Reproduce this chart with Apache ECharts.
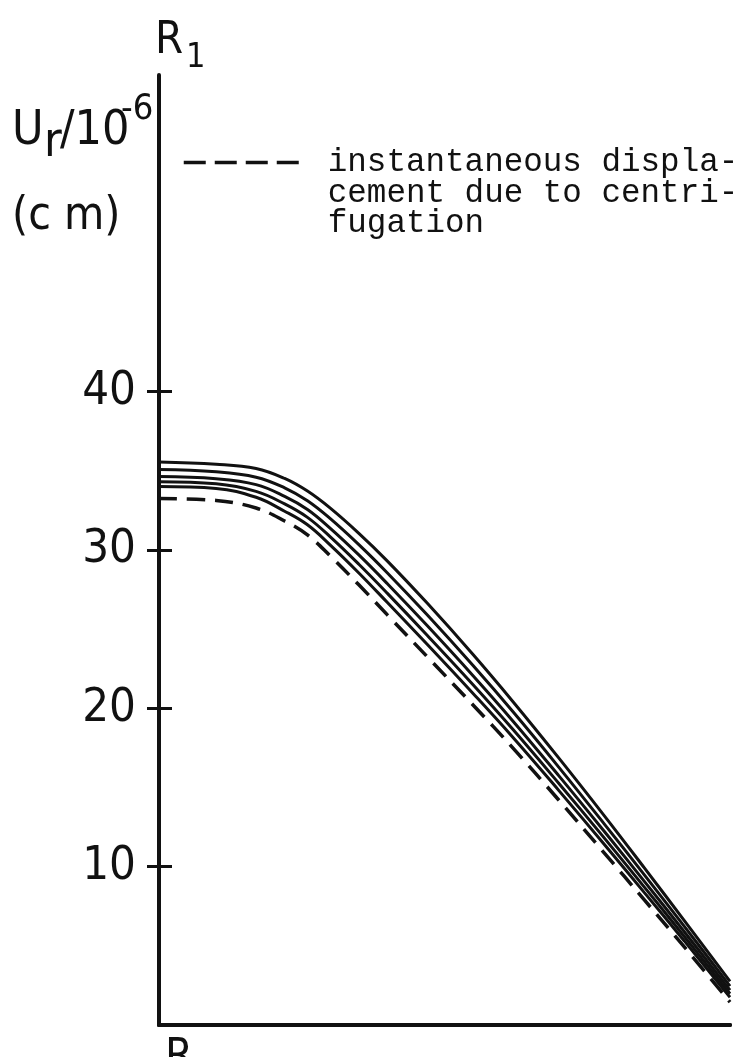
<!DOCTYPE html>
<html>
<head>
<meta charset="utf-8">
<script src="https://cdn.jsdelivr.net/npm/echarts@6/dist/echarts.min.js"></script>
<style>
  html, body { margin: 0; padding: 0; background: #fff; }
  #chart { width: 748px; height: 1057px; }
</style>
</head>
<body>
<div id="chart"></div>
<script>
// ---- data ----
const xPositions = [0, 10, 17, 22, 26, 30, 35, 40, 47, 55, 62, 70, 78, 85, 92, 100];
const curve1 = [35.56, 35.42, 35.15, 34.52, 33.72, 32.64, 31.05, 29.3, 26.63, 23.40, 20.42, 16.87, 13.21, 9.92, 6.59, 2.75];
const curve2 = [35.08, 34.94, 34.60, 33.93, 33.11, 31.98, 30.34, 28.55, 25.89, 22.70, 19.78, 16.29, 12.69, 9.48, 6.23, 2.46];
const curve3 = [34.64, 34.50, 34.13, 33.39, 32.56, 31.37, 29.69, 27.87, 25.21, 22.06, 19.19, 15.75, 12.22, 9.07, 5.89, 2.20];
const curve4 = [34.31, 34.18, 33.70, 32.91, 32.06, 30.83, 29.10, 27.26, 24.60, 21.49, 18.66, 15.27, 11.80, 8.71, 5.59, 1.97];
const curve5 = [34.01, 33.89, 33.33, 32.45, 31.59, 30.31, 28.55, 26.68, 24.03, 20.94, 18.16, 14.82, 11.40, 8.36, 5.31, 1.75];
const instantaneous = [33.25, 33.13, 32.65, 31.83, 30.95, 29.62, 27.8, 25.9, 23.25, 20.21, 17.49, 14.21, 10.86, 7.9, 4.93, 1.45];
const yTicks = [10, 20, 30, 40];
const legendText = ['instantaneous displa-', 'cement due to centri-', 'fugation'];
const dashedName = 'instantaneous displacement due to centrifugation';

const INK = '#111';
const NARROW = "'Liberation Sans Narrow', 'DejaVu Sans Condensed', 'Liberation Sans', sans-serif";
const MONO = "'Courier New', 'Liberation Mono', 'DejaVu Sans Mono', monospace";

function pairs(vals) { return xPositions.map((x, i) => [x, vals[i]]); }

const solidCurves = [curve1, curve2, curve3, curve4, curve5].map((c, i) => ({
  name: 'curve' + (i + 1),
  type: 'line',
  xAxisIndex: 0, yAxisIndex: 0,
  data: pairs(c),
  smooth: 0.4,
  symbol: 'none',
  itemStyle: { color: INK },
  lineStyle: { color: INK, width: 3, type: 'solid' },
  silent: true
}));

const chart = echarts.init(document.getElementById('chart'), null, { renderer: 'canvas' });
chart.setOption({
  backgroundColor: '#fff',
  animation: false,
  grid: [
    { left: 159, right: 18, top: 75, bottom: 32 },
    { left: 159, right: 18, top: 75, bottom: 32 }
  ],
  xAxis: [
    { type: 'value', gridIndex: 0, min: 0, max: 100, position: 'bottom',
      axisLine: { show: true, lineStyle: { color: INK, width: 4 } },
      axisTick: { show: false }, axisLabel: { show: false }, splitLine: { show: false } },
    { type: 'value', gridIndex: 1, min: 0, max: 100, position: 'top',
      axisLine: { show: true, lineStyle: { color: INK, width: 4 } },
      axisTick: { show: false }, axisLabel: { show: false }, splitLine: { show: false } }
  ],
  yAxis: [
    { type: 'value', gridIndex: 0, min: 0, max: 60, interval: 10, position: 'left',
      axisLine: { show: true, lineStyle: { color: INK, width: 4 } },
      axisTick: { show: true, length: 12, customValues: yTicks, lineStyle: { color: INK, width: 3 } },
      axisLabel: { show: true, customValues: yTicks, margin: 23, color: INK,
        fontSize: 47, fontFamily: NARROW },
      splitLine: { show: false } },
    { type: 'value', gridIndex: 1, min: 0, max: 60, interval: 10, position: 'left',
      axisLine: { show: false },
      axisTick: { show: true, inside: true, length: 13, customValues: yTicks, lineStyle: { color: INK, width: 3 } },
      axisLabel: { show: false },
      splitLine: { show: false } }
  ],
  legend: {
    data: [dashedName],
    left: 177, top: 80, padding: 5,
    itemWidth: 115, itemHeight: 10,
    lineStyle: { type: [22, 9], width: 3.5, color: INK },
    itemStyle: { opacity: 0 },
    formatter: () => '\n\n' + legendText.join('\n'),
    textStyle: { fontFamily: MONO, fontSize: 32.6, lineHeight: 30.5, color: INK,
      padding: [0, 0, 0, 24] },
    selectedMode: false
  },
  series: solidCurves.concat([{
    name: dashedName,
    type: 'line',
    xAxisIndex: 0, yAxisIndex: 0,
    data: pairs(instantaneous),
    smooth: 0.4,
    symbol: 'none',
    itemStyle: { color: INK },
    lineStyle: { color: INK, width: 3.5, type: [18, 10] },
    silent: true
  }]),
  graphic: [
    { type: 'text', x: 155, y: 41, style: { text: 'R', fontSize: 45, fontFamily: NARROW, fill: INK, verticalAlign: 'middle' } },
    { type: 'text', x: 186, y: 58, style: { text: '1', fontSize: 34, fontFamily: NARROW, fill: INK, verticalAlign: 'middle' } },
    { type: 'text', x: 12, y: 131.5, style: { text: 'U', fontSize: 48, fontFamily: NARROW, fill: INK, verticalAlign: 'middle' } },
    { type: 'text', x: 44, y: 144, style: { text: 'r', fontSize: 48, fontFamily: NARROW, fill: INK, verticalAlign: 'middle' } },
    { type: 'text', x: 60, y: 131.5, style: { text: '/10', fontSize: 48, fontFamily: NARROW, fill: INK, verticalAlign: 'middle' } },
    { type: 'text', x: 121, y: 110, style: { text: '-6', fontSize: 36, fontFamily: NARROW, fill: INK, verticalAlign: 'middle' } },
    { type: 'text', x: 12, y: 217, style: { text: '(c m)', fontSize: 46, fontFamily: NARROW, fill: INK, verticalAlign: 'middle' } },
    { type: 'text', x: 165, y: 1058, style: { text: 'R', fontSize: 45, fontFamily: NARROW, fill: INK, verticalAlign: 'middle' } }
  ]
});
</script>
</body>
</html>
